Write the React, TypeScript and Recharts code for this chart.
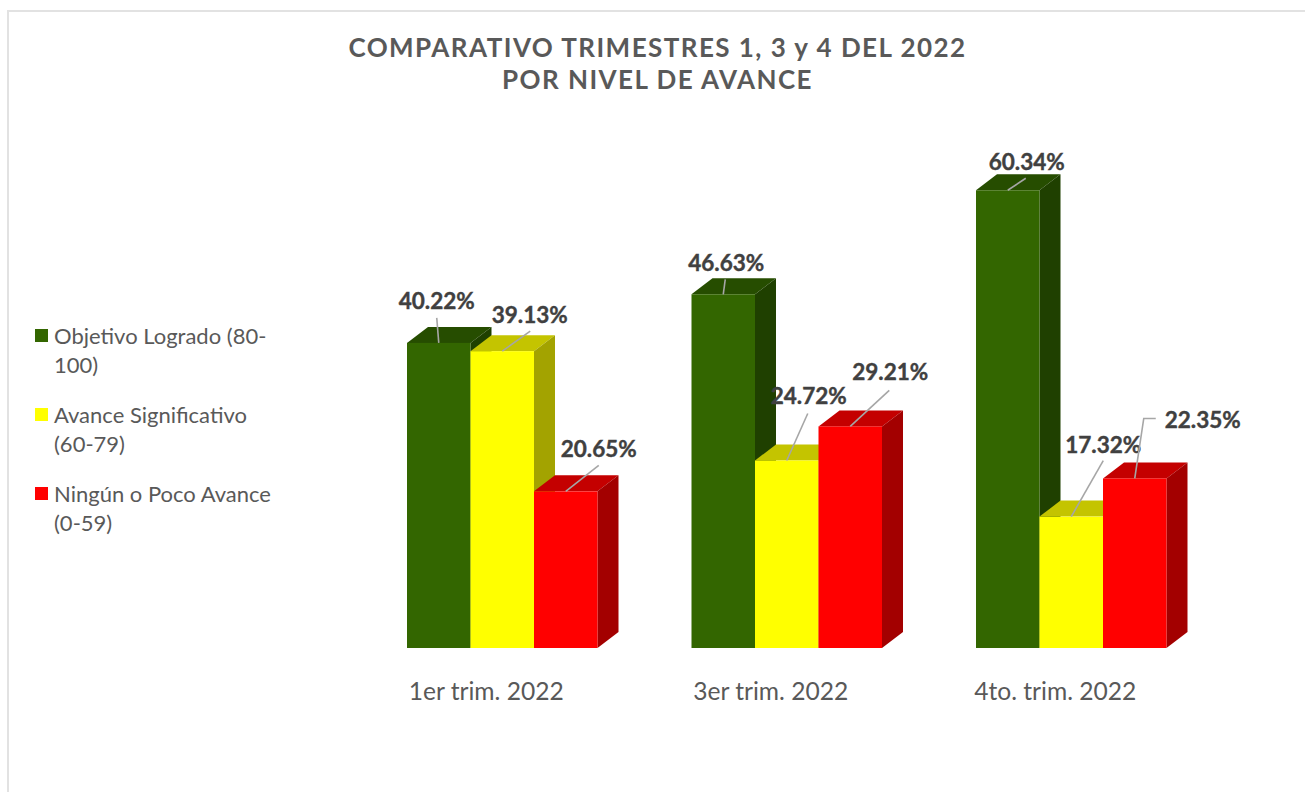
import { Bar, BarChart, LabelList, Legend, XAxis, YAxis } from "recharts";

const FONT = "Lato, sans-serif";

const TRIMESTERS = ["1er trim. 2022", "3er trim. 2022", "4to. trim. 2022"];
const LOGRADO = [40.22, 46.63, 60.34];
const SIGNIFICATIVO = [39.13, 24.72, 17.32];
const POCO_AVANCE = [20.65, 29.21, 22.35];

const rows = TRIMESTERS.map((name, i) => ({
  name,
  logrado: LOGRADO[i],
  significativo: SIGNIFICATIVO[i],
  poco: POCO_AVANCE[i],
}));

// where each label was dragged to, relative to the top centre of its bar
// [label dx, label dy, leader end dx, leader end dy]
const LOGRADO_LABELS = [
  [-2, -42, -2, -25],
  [3, -32, 2, -15],
  [19, -29, 18, -12],
];
const SIGNIFICATIVO_LABELS = [
  [27.5, -37, 28, -20],
  [22, -65, 21, -47],
  [32, -72, 32, -56],
];
const POCO_LABELS = [
  [33, -43, 33, -26],
  [40, -55, 39, -36],
  [68, -59, 9, -60],
];

const DEPTH_X = 21;
const DEPTH_Y = 16;

const makeShape = (front: string, top: string, side: string) => (props: any) => {
  const { x, y, width, height } = props;
  const r = x + width;
  const b = y + height;
  return (
    <g>
      <polygon
        points={`${x},${y} ${x + DEPTH_X},${y - DEPTH_Y} ${r + DEPTH_X},${y - DEPTH_Y} ${r},${y}`}
        fill={top}
      />
      <polygon
        points={`${r},${y} ${r + DEPTH_X},${y - DEPTH_Y} ${r + DEPTH_X},${b - DEPTH_Y} ${r},${b}`}
        fill={side}
      />
      <rect x={x} y={y} width={width} height={height} fill={front} />
    </g>
  );
};

const makeLabel = (offsets: number[][]) => (props: any) => {
  const { x, y, width, value, index } = props;
  const [dx, dy, lx, ly] = offsets[index];
  const cx = x + width / 2;
  // last red label has an elbow in its leader line
  const elbow = lx === 9;
  const points = elbow
    ? `${cx},${y} ${cx + lx},${y + ly} ${cx + lx + 12},${y + ly}`
    : `${cx},${y} ${cx + lx},${y + ly}`;
  return (
    <g>
      <polyline points={points} fill="none" stroke="#a6a6a6" strokeWidth={1.6} />
      <text
        x={cx + dx}
        y={y + dy}
        textAnchor="middle"
        dominantBaseline="central"
        fontFamily={FONT}
        fontWeight={700}
        fontSize={22.5}
        fill="#404040"
        stroke="#404040"
        strokeWidth={0.4}
      >
        {value.toFixed(2)}%
      </text>
    </g>
  );
};

const TrimTick = ({ x, y, payload }: any) => (
  <text
    x={x - 16}
    y={y}
    textAnchor="middle"
    dominantBaseline="central"
    fontFamily={FONT}
    fontSize={24.6}
    fill="#595959"
  >
    {payload.value}
  </text>
);

const LegendBox = ({ payload }: any) => (
  <div style={{ width: 240, fontFamily: FONT, fontSize: 22, lineHeight: "29px", color: "#595959" }}>
    {payload.map((item: any) => (
      <div key={item.value} style={{ display: "flex", marginBottom: 21 }}>
        <i
          style={{
            flex: "none",
            width: 13,
            height: 13,
            marginTop: 8,
            marginRight: 6,
            backgroundColor: item.color,
          }}
        />
        <span>{item.value}</span>
      </div>
    ))}
  </div>
);

export default function App() {
  return (
    <div style={{ position: "absolute", left: 0, top: 0, width: 1305, height: 792, background: "#fff", overflow: "hidden" }}>
      <div
        style={{
          position: "absolute",
          left: 7,
          top: 10,
          right: 0,
          bottom: 0,
          borderLeft: "2px solid #e2e2e2",
          borderTop: "2px solid #e2e2e2",
        }}
      />
      <div
        style={{
          position: "absolute",
          left: 0,
          top: 32,
          width: 1315,
          textAlign: "center",
          fontFamily: FONT,
          fontWeight: 700,
          fontSize: 26,
          letterSpacing: 1.45,
          lineHeight: "31.5px",
          color: "#595959",
        }}
      >
        COMPARATIVO TRIMESTRES 1, 3 y 4 DEL 2022
        <br />
        POR NIVEL DE AVANCE
      </div>
      <BarChart
        width={1305}
        height={792}
        data={rows}
        barSize={63.5}
        barGap={0}
        margin={{ top: 117, right: 91.5, bottom: 0, left: 120 }}
        style={{ position: "absolute", left: 0, top: 0 }}
      >
        <XAxis
          dataKey="name"
          axisLine={false}
          tickLine={false}
          interval={0}
          height={144}
          tickMargin={36}
          tick={<TrimTick />}
        />
        <YAxis hide domain={[0, 70]} />
        <Legend
          layout="vertical"
          align="left"
          verticalAlign="top"
          itemSorter={null}
          wrapperStyle={{ left: 35, top: 321, width: 240 }}
          content={<LegendBox />}
        />
        <Bar
          dataKey="logrado"
          name="Objetivo Logrado (80-100)"
          fill="#336600"
          shape={makeShape("#336600", "#264d00", "#1f4000")}
          isAnimationActive={false}
        >
          <LabelList dataKey="logrado" content={makeLabel(LOGRADO_LABELS)} />
        </Bar>
        <Bar
          dataKey="significativo"
          name="Avance Significativo (60-79)"
          fill="#ffff00"
          shape={makeShape("#ffff00", "#c4c400", "#a3a300")}
          isAnimationActive={false}
        >
          <LabelList dataKey="significativo" content={makeLabel(SIGNIFICATIVO_LABELS)} />
        </Bar>
        <Bar
          dataKey="poco"
          name="Ningún o Poco Avance (0-59)"
          fill="#ff0000"
          shape={makeShape("#ff0000", "#c40000", "#a30000")}
          isAnimationActive={false}
        >
          <LabelList dataKey="poco" content={makeLabel(POCO_LABELS)} />
        </Bar>
      </BarChart>
    </div>
  );
}
